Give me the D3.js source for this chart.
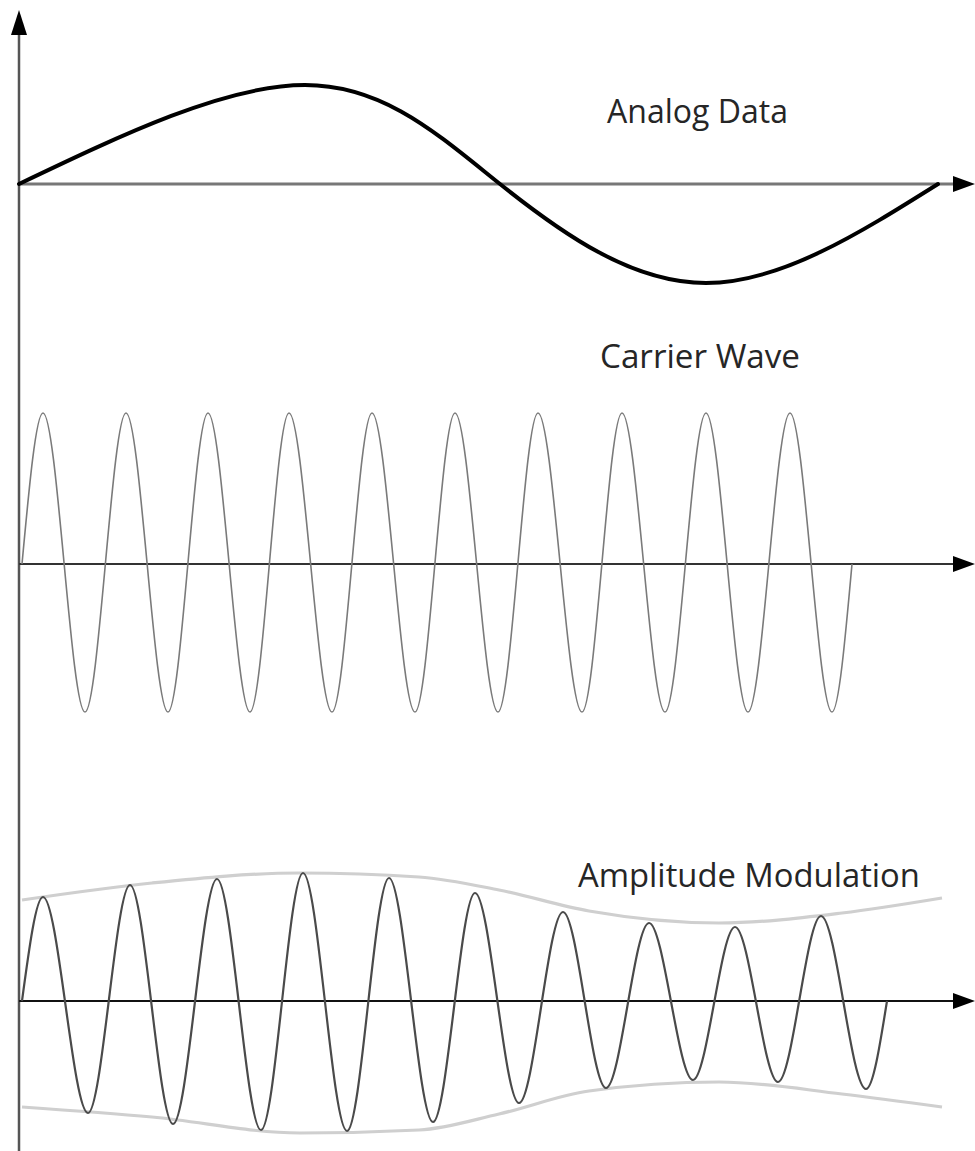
<!DOCTYPE html>
<html>
<head>
<meta charset="utf-8">
<script src="https://cdn.jsdelivr.net/npm/d3@7"></script>
<style>
  html, body { margin: 0; padding: 0; background: #fff; }
  svg { display: block; }
</style>
</head>
<body>
<svg id="chart" width="975" height="1151"></svg>
<script>
// ---------- data (time in arbitrary units 0..956, amplitude in arbitrary units) ----------
const titles = ["Analog Data", "Carrier Wave", "Amplitude Modulation"];

// Analog data (message signal): start, peak, zero crossing, trough, end
const analogT = [0, 286, 481, 687, 919];
const analogV = [0, 0.99, 0, -0.99, 0];

// Carrier wave: start, alternating peaks / troughs, end
const carrierT = [3, 24, 66, 107, 149, 189, 231, 270, 313, 353, 396, 436, 479, 519, 563, 603, 646, 687, 729, 771, 813, 833];
const carrierV = [0, 1.51, -1.48, 1.51, -1.48, 1.51, -1.48, 1.51, -1.48, 1.51, -1.48, 1.51, -1.48, 1.51, -1.48, 1.51, -1.48, 1.51, -1.48, 1.51, -1.48, 0];

// Amplitude modulated wave: start, alternating peaks / troughs, end
const amT = [3, 24, 69, 111, 154, 198, 242, 284, 328, 370, 414, 456, 500, 544, 587, 630, 674, 716, 759, 802, 847, 868];
const amV = [0, 1.04, -1.12, 1.16, -1.23, 1.22, -1.29, 1.28, -1.30, 1.23, -1.21, 1.08, -1.02, 0.89, -0.87, 0.78, -0.79, 0.74, -0.81, 0.85, -0.88, 0];

// Envelope of the AM wave
const envUpperT = [3, 133, 281, 400, 480, 570, 700, 823, 923];
const envUpper  = [1.01, 1.18, 1.28, 1.24, 1.11, 0.90, 0.78, 0.88, 1.03];
const envLowerT = [3, 133, 281, 400, 480, 570, 700, 823, 923];
const envLower  = [-1.06, -1.16, -1.32, -1.29, -1.13, -0.90, -0.81, -0.93, -1.06];

// ---------- layout ----------
const svg = d3.select("#chart");
const x = d3.scaleLinear().domain([0, 956]).range([19, 975]);
const centers = [184, 564, 1001];
const yScales = centers.map(c => d3.scaleLinear().domain([-1, 1]).range([c + 100, c - 100]));
const titlePos = [{x: 607, y: 123, w: 181}, {x: 600, y: 368, w: 200}, {x: 578, y: 887, w: 342}];

const zip = (ts, vs) => ts.map((t, i) => [t, vs[i]]);

// ---------- axes ----------
const axisG = svg.append("g");
axisG.append("line")
  .attr("x1", x(0)).attr("x2", x(0))
  .attr("y1", 30).attr("y2", 1151)
  .attr("stroke", "#555").attr("stroke-width", 2.5);
axisG.append("path")
  .attr("d", `M${x(0)},10 L${x(0) - 8},35 L${x(0) + 8},35 Z`)
  .attr("fill", "#000");

const axisStyles = [
  {stroke: "#777", width: 3},
  {stroke: "#333", width: 2},
  {stroke: "#111", width: 2}
];
yScales.forEach((y, i) => {
  const y0 = y(0);
  axisG.append("line")
    .attr("x1", x(0)).attr("x2", x(936))
    .attr("y1", y0).attr("y2", y0)
    .attr("stroke", axisStyles[i].stroke).attr("stroke-width", axisStyles[i].width);
  axisG.append("path")
    .attr("d", `M${x(956)},${y0} L${x(934)},${y0 - 8} L${x(934)},${y0 + 8} Z`)
    .attr("fill", "#000");
});

// ---------- curves ----------
const lineWave = y => d3.line().x(d => x(d[0])).y(d => y(d[1])).curve(d3.curveMonotoneX);
const lineSmooth = y => d3.line().x(d => x(d[0])).y(d => y(d[1])).curve(d3.curveNatural);

// envelopes (light gray)
svg.append("path")
  .attr("d", lineWave(yScales[2])(zip(envUpperT, envUpper)))
  .attr("fill", "none").attr("stroke", "#cfcfcf").attr("stroke-width", 3.2);
svg.append("path")
  .attr("d", lineWave(yScales[2])(zip(envLowerT, envLower)))
  .attr("fill", "none").attr("stroke", "#cfcfcf").attr("stroke-width", 3.2);

// analog
svg.append("path")
  .attr("d", lineSmooth(yScales[0])(zip(analogT, analogV)))
  .attr("fill", "none").attr("stroke", "#000").attr("stroke-width", 4)
  .attr("stroke-linejoin", "round").attr("stroke-linecap", "round");

// carrier
svg.append("path")
  .attr("d", lineWave(yScales[1])(zip(carrierT, carrierV)))
  .attr("fill", "none").attr("stroke", "#7a7a7a").attr("stroke-width", 1.6);

// AM
svg.append("path")
  .attr("d", lineWave(yScales[2])(zip(amT, amV)))
  .attr("fill", "none").attr("stroke", "#4a4a4a").attr("stroke-width", 2.2);

// ---------- titles ----------
titles.forEach((t, i) => {
  const p = titlePos[i];
  const txt = svg.append("text")
    .attr("x", p.x).attr("y", p.y)
    .attr("font-family", "'Open Sans', 'Noto Sans', sans-serif")
    .attr("font-size", 30)
    .attr("fill", "#262626")
    .text(t);
  const w = txt.node().getComputedTextLength();
  txt.attr("font-size", 30 * p.w / w);
});
</script>
</body>
</html>
